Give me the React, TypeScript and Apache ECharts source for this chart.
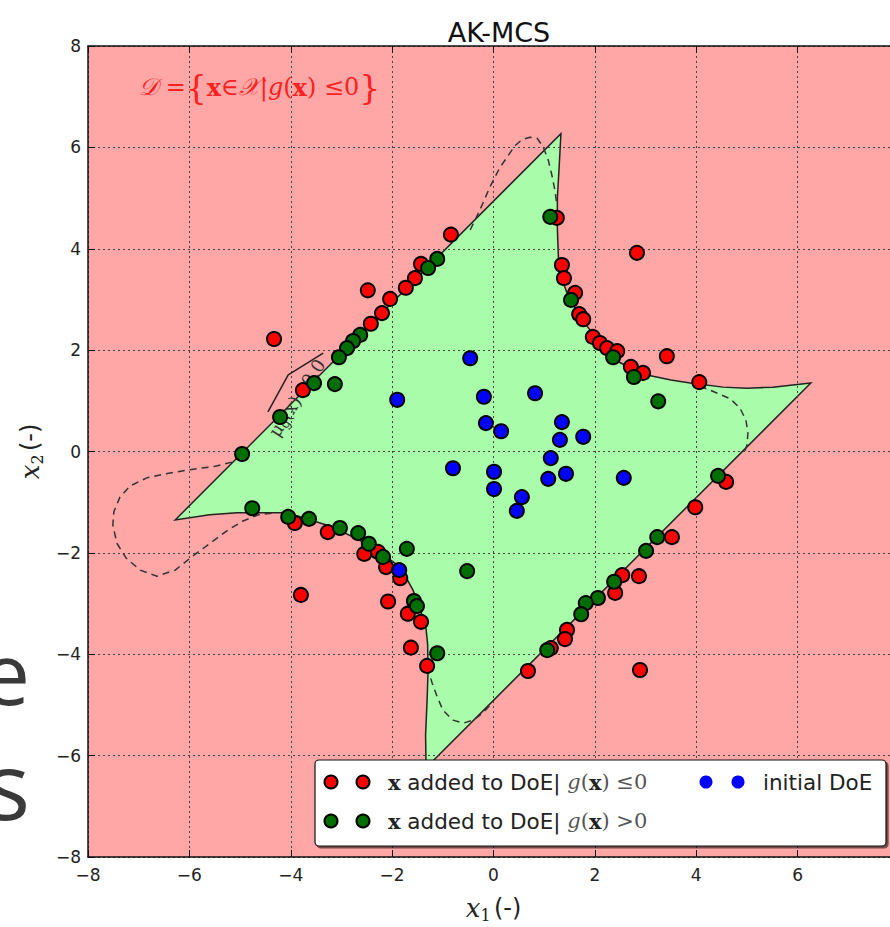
import React, { useEffect, useRef } from 'react';
import * as echarts from 'echarts';

// ---- axis ----
const axisMin = -8;
const axisMax = 8;
const axisStep = 2;

// ---- initial design of experiments (blue) ----
const initialDoE: number[][] = [
  [-0.46, 1.84], [-1.90, 1.02], [-0.19, 1.08], [0.82, 1.15], [-0.15, 0.56],
  [0.15, 0.40], [1.35, 0.58], [1.31, 0.23], [1.77, 0.29], [1.13, -0.13],
  [1.43, -0.44], [1.08, -0.54], [2.57, -0.52], [-0.80, -0.33], [0.01, -0.40],
  [0.01, -0.74], [0.56, -0.90], [0.46, -1.17], [-1.86, -2.34],
];

// ---- points added to DoE with g(x) <= 0 (red) ----
const addedFail: number[][] = [
  [-0.84, 4.28], [-1.43, 3.70], [-1.55, 3.42], [-1.73, 3.23], [-2.48, 3.18],
  [-2.04, 3.01], [-2.20, 2.73], [-2.42, 2.52], [-4.33, 2.22], [-3.76, 1.21],
  [-3.92, -1.41], [-3.27, -1.59], [-2.55, -2.02], [-2.28, -1.98], [-2.12, -2.28],
  [-1.84, -2.50], [-3.80, -2.83], [-2.08, -2.96], [-1.69, -3.20], [-1.43, -3.36],
  [-1.63, -3.87], [-1.31, -4.23],
  [1.25, 4.61], [2.83, 3.92], [1.35, 3.68], [1.39, 3.42], [1.61, 3.13],
  [1.69, 2.71], [1.77, 2.61], [1.96, 2.26], [2.10, 2.14], [2.24, 2.04],
  [2.44, 1.98], [2.71, 1.67], [2.95, 1.55], [3.42, 1.88], [4.06, 1.37],
  [4.59, -0.60], [3.98, -1.10], [3.52, -1.69], [2.54, -2.44], [2.87, -2.46],
  [2.40, -2.79], [1.45, -3.52], [1.41, -3.70], [1.13, -3.88], [0.68, -4.33],
  [2.89, -4.31],
];

// ---- points added to DoE with g(x) > 0 (green) ----
const addedSafe: number[][] = [
  [-1.11, 3.80], [-1.29, 3.62], [-2.63, 2.30], [-2.77, 2.18], [-2.89, 2.04],
  [-3.05, 1.86], [-3.13, 1.33], [-3.54, 1.35], [-4.21, 0.68], [-4.96, -0.05],
  [-4.76, -1.12], [-4.05, -1.29], [-3.64, -1.33], [-3.03, -1.51], [-2.67, -1.61],
  [-2.46, -1.82], [-2.18, -2.08], [-1.71, -1.92], [-0.52, -2.36], [-1.57, -2.95],
  [-1.51, -3.05], [-1.11, -3.98],
  [1.12, 4.63], [1.53, 2.99], [2.36, 1.86], [2.77, 1.47], [3.25, 0.99],
  [4.43, -0.48], [3.23, -1.69], [3.01, -1.96], [2.38, -2.57], [2.06, -2.89],
  [1.82, -2.99], [1.73, -3.21], [1.06, -3.92],
];

// ---- kriging mean contour mu(x)=0 (boundary of the green safe region) ----
const muBoundary: number[][] = [
  [-6.28, -1.35], [1.33, 6.27],
  [1.30, 5.70], [1.26, 5.00], [1.26, 4.40], [1.28, 3.84], [1.35, 3.40], [1.45, 3.13],
  [1.71, 2.65], [2.10, 2.14], [2.50, 1.75], [3.03, 1.51], [3.50, 1.41], [3.88, 1.35],
  [4.53, 1.27], [5.00, 1.25], [5.51, 1.27], [6.26, 1.35],
  [-1.33, -6.24],
  [-1.34, -5.60], [-1.31, -4.90], [-1.29, -4.30], [-1.30, -3.80], [-1.33, -3.50],
  [-1.45, -3.10], [-1.59, -2.73], [-1.84, -2.28], [-2.38, -1.88], [-3.17, -1.49],
  [-4.07, -1.21], [-5.06, -1.21], [-5.60, -1.25], [-6.28, -1.35],
];

// ---- true limit state g(x)=0 (dashed), where it departs from the contour ----
const gTopLobe: number[][] = [
  [-0.46, 4.37], [-0.27, 4.76], [-0.07, 5.22], [0.13, 5.61], [0.27, 5.81], [0.42, 6.03],
  [0.56, 6.15], [0.72, 6.20], [0.86, 6.18], [0.98, 6.01], [1.08, 5.75], [1.15, 5.46],
  [1.21, 5.16], [1.25, 4.87],
];
const gRightLobe: number[][] = [
  [4.07, 1.29], [4.37, 1.17], [4.67, 1.04], [4.86, 0.86], [4.98, 0.62], [5.02, 0.36],
  [5.00, 0.13], [4.96, 0.01],
];
const gBottomLobe: number[][] = [
  [-1.31, -4.25], [-1.21, -4.57], [-1.11, -4.84], [-1.00, -5.10], [-0.80, -5.30],
  [-0.60, -5.36], [-0.40, -5.30], [-0.21, -5.16], [-0.03, -4.96],
];
const gLeftLobe: number[][] = [
  [-5.16, -0.21], [-5.49, -0.29], [-5.99, -0.36], [-6.48, -0.44], [-6.84, -0.52],
  [-7.17, -0.68], [-7.37, -0.90], [-7.49, -1.19], [-7.51, -1.45], [-7.43, -1.81],
  [-7.25, -2.10], [-6.97, -2.34], [-6.64, -2.46], [-6.28, -2.34], [-5.93, -2.06],
  [-5.59, -1.81], [-5.24, -1.55], [-4.94, -1.37], [-4.64, -1.25], [-4.31, -1.21],
];
const labelLeader: number[][] = [[-4.45, 0.78], [-4.05, 1.51], [-3.36, 1.94]];
const contourLabelAnchor: number[][] = [[-3.88, 1.06]];

const minusFmt = (v: number) => (v < 0 ? '\u2212' + Math.abs(v) : String(v));

const serif = 'DejaVu Serif';
const sans = 'DejaVu Sans';

export default function App() {
  const ref = useRef<HTMLDivElement>(null);

  useEffect(() => {
    const chart = echarts.init(ref.current as HTMLDivElement, null, { renderer: 'svg' });

    const axisNameRich = {
      i: { fontFamily: serif, fontStyle: 'italic', fontSize: 26, color: '#222' },
      sub: { fontFamily: serif, fontSize: 16, color: '#222', padding: [14, 0, 0, 0] },
      n: { fontFamily: sans, fontSize: 24, color: '#222' },
    };

    const baseAxis = {
      type: 'value',
      min: axisMin,
      max: axisMax,
      interval: axisStep,
      z: 3,
      axisLine: { show: true, onZero: false, lineStyle: { color: '#111', width: 1.5 } },
      axisTick: { show: true, inside: true, length: 7, lineStyle: { color: '#111', width: 1 } },
    };

    const lobeSeries = [gTopLobe, gRightLobe, gBottomLobe, gLeftLobe].map((d) => ({
      type: 'line',
      data: d,
      symbol: 'none',
      silent: true,
      z: 4,
      lineStyle: { color: '#333', width: 1.5, type: [7, 5] },
    }));

    const legendRich = {
      b: { fontFamily: serif, fontWeight: 'bold', fontSize: 21, fill: '#222' },
      i: { fontFamily: serif, fontStyle: 'italic', fontSize: 21, fill: '#555' },
      s: { fontFamily: serif, fontSize: 21, fill: '#555' },
      t: { fontFamily: sans, fontSize: 21.5, fill: '#222' },
    };

    const red = '#FF2020';
    const option: any = {
      animation: false,
      title: {
        text: 'AK-MCS',
        left: 494,
        top: 14,
        textAlign: 'center',
        textStyle: { fontFamily: sans, fontSize: 27, fontWeight: 'normal', color: '#111' },
      },
      grid: {
        left: 88,
        top: 46,
        width: 811,
        height: 811,
        show: true,
        backgroundColor: '#FFA6A6',
        borderWidth: 0,
        containLabel: false,
        outerBoundsMode: 'none',
      },
      xAxis: [
        {
          ...baseAxis,
          position: 'bottom',
          axisLabel: { formatter: minusFmt, color: '#222', fontSize: 17, fontFamily: sans, margin: 9, showMinLabel: true, showMaxLabel: false },
          splitLine: { show: true, lineStyle: { type: [2, 3], color: '#444', width: 1 } },
          name: '{i|x}{sub|1} {n|(-)}',
          nameLocation: 'middle',
          nameGap: 36,
          nameTextStyle: { rich: axisNameRich },
        },
        {
          ...baseAxis,
          position: 'top',
          axisLabel: { show: false },
          splitLine: { show: false },
        },
      ],
      yAxis: [
        {
          ...baseAxis,
          position: 'left',
          axisLabel: { formatter: minusFmt, color: '#222', fontSize: 17, fontFamily: sans, margin: 7, showMinLabel: true, showMaxLabel: true },
          splitLine: { show: true, lineStyle: { type: [2, 3], color: '#444', width: 1 } },
          name: '{i|x}{sub|2} {n|(-)}',
          nameLocation: 'middle',
          nameRotate: 90,
          nameGap: 40,
          nameTextStyle: { rich: axisNameRich },
        },
        {
          ...baseAxis,
          position: 'right',
          axisLabel: { show: false },
          splitLine: { show: false },
        },
      ],
      series: [
        {
          type: 'custom',
          name: 'safe domain',
          data: muBoundary,
          z: 1,
          silent: true,
          clip: true,
          encode: { x: 0, y: 1 },
          renderItem: (params: any, api: any) => {
            if (params.dataIndex !== 0) return { type: 'group', children: [] };
            const pts = muBoundary.map((p) => api.coord(p));
            return {
              type: 'polygon',
              shape: { points: pts },
              style: { fill: '#A9FCA9', stroke: '#222', lineWidth: 1.5 },
            };
          },
        },
        ...lobeSeries,
        {
          type: 'line',
          data: labelLeader,
          symbol: 'none',
          silent: true,
          z: 4,
          lineStyle: { color: '#222', width: 1.5 },
        },
        {
          type: 'custom',
          data: contourLabelAnchor,
          z: 4,
          silent: true,
          encode: { x: 0, y: 1 },
          renderItem: (params: any, api: any) => {
            const p = api.coord([api.value(0), api.value(1)]);
            return {
              type: 'text',
              x: p[0],
              y: p[1],
              rotation: (57 * Math.PI) / 180,
              style: {
                text: 'μ{s|ĝ}(x)=0.0',
                fontFamily: serif,
                fontSize: 18,
                fill: '#333',
                align: 'center',
                verticalAlign: 'middle',
                rich: { s: { fontFamily: serif, fontSize: 13, fill: '#333', padding: [8, 0, 0, 0] } },
              },
            };
          },
        },
        {
          type: 'scatter',
          name: 'x added to DoE| g(x) ≤0',
          data: addedFail,
          symbolSize: 14,
          z: 5,
          itemStyle: { color: '#FF0000', borderColor: '#000', borderWidth: 2, opacity: 1 },
        },
        {
          type: 'scatter',
          name: 'x added to DoE| g(x) >0',
          data: addedSafe,
          symbolSize: 14,
          z: 6,
          itemStyle: { color: '#006E00', borderColor: '#000', borderWidth: 2, opacity: 1 },
        },
        {
          type: 'scatter',
          name: 'initial DoE',
          data: initialDoE,
          symbolSize: 14,
          z: 7,
          itemStyle: { color: '#0000FF', borderColor: '#000', borderWidth: 2, opacity: 1 },
        },
      ],
      graphic: [
        // stray letters from the underlying slide
        { type: 'text', x: 30, y: 671, z: 1, style: { text: 'e', fontFamily: 'Open Sans', fontSize: 86, lineHeight: 50, fill: '#3a3a3a', align: 'right', verticalAlign: 'middle' } },
        { type: 'text', x: 30, y: 784, z: 1, style: { text: 's', fontFamily: 'Open Sans', fontSize: 94, lineHeight: 56, fill: '#3a3a3a', align: 'right', verticalAlign: 'middle' } },
        // domain definition annotation
        {
          type: 'text',
          x: 139,
          y: 87,
          z: 50,
          style: {
            text: '{c|𝒟}{n| =}{{b|x}{n|∈}{c|𝒳}{n||}{i|g}{n|(}{b|x}{n|) ≤0}}',
            fontFamily: serif,
            fontSize: 33,
            fill: red,
            verticalAlign: 'middle',
            rich: {
              c: { fontFamily: serif, fontStyle: 'italic', fontSize: 24, fill: red },
              n: { fontFamily: serif, fontSize: 24, fill: red },
              b: { fontFamily: serif, fontWeight: 'bold', fontSize: 24, fill: red },
              i: { fontFamily: serif, fontStyle: 'italic', fontSize: 24, fill: red },
            },
          },
        },
        // legend
        {
          type: 'rect',
          z: 100,
          shape: { x: 315, y: 760, width: 571, height: 86, r: 4 },
          style: { fill: '#fff', stroke: '#111', lineWidth: 1.2, shadowBlur: 0, shadowOffsetX: 2, shadowOffsetY: 2, shadowColor: 'rgba(0,0,0,0.55)' },
        },
        { type: 'circle', z: 101, shape: { cx: 331, cy: 782, r: 6.5 }, style: { fill: '#FF0000', stroke: '#000', lineWidth: 2 } },
        { type: 'circle', z: 101, shape: { cx: 363, cy: 782, r: 6.5 }, style: { fill: '#FF0000', stroke: '#000', lineWidth: 2 } },
        { type: 'circle', z: 101, shape: { cx: 331, cy: 821, r: 6.5 }, style: { fill: '#006E00', stroke: '#000', lineWidth: 2 } },
        { type: 'circle', z: 101, shape: { cx: 363, cy: 821, r: 6.5 }, style: { fill: '#006E00', stroke: '#000', lineWidth: 2 } },
        { type: 'circle', z: 101, shape: { cx: 706, cy: 782, r: 6.5 }, style: { fill: '#0000FF' } },
        { type: 'circle', z: 101, shape: { cx: 738, cy: 782, r: 6.5 }, style: { fill: '#0000FF' } },
        {
          type: 'text', x: 388, y: 782, z: 101,
          style: { text: '{b|x}{t| added to DoE| }{i|g}{s|(}{b|x}{s|) ≤0}', verticalAlign: 'middle', rich: legendRich },
        },
        {
          type: 'text', x: 388, y: 821, z: 101,
          style: { text: '{b|x}{t| added to DoE| }{i|g}{s|(}{b|x}{s|) >0}', verticalAlign: 'middle', rich: legendRich },
        },
        {
          type: 'text', x: 763, y: 782, z: 101,
          style: { text: 'initial DoE', fontFamily: sans, fontSize: 21.5, fill: '#222', verticalAlign: 'middle' },
        },
      ],
    };

    chart.setOption(option);
    return () => chart.dispose();
  }, []);

  return <div ref={ref} style={{ position: 'absolute', left: 0, top: 0, width: 890, height: 927 }} />;
}
